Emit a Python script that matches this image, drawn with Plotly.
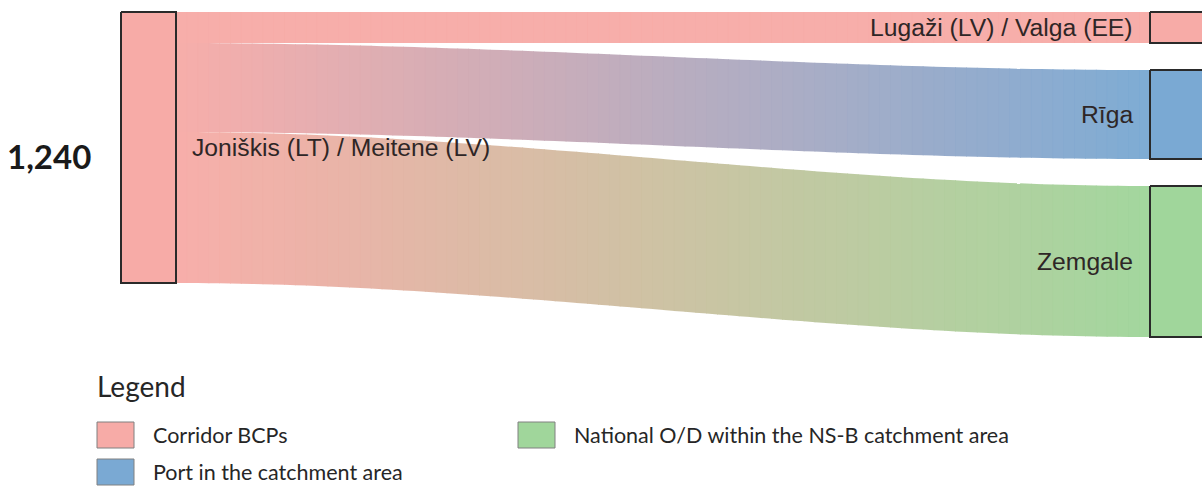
import plotly.graph_objects as go

# ---------------- data ----------------
source_label = "Joniškis (LT) / Meitene (LV)"
target_labels = ["Lugaži (LV) / Valga (EE)", "Rīga", "Zemgale"]
flow_values = [142, 407, 691]
target_groups = ["Corridor BCPs", "Port in the catchment area",
                 "National O/D within the NS-B catchment area"]
source_group = "Corridor BCPs"

legend_title = "Legend"
legend_labels = ["Corridor BCPs", "Port in the catchment area",
                 "National O/D within the NS-B catchment area"]
group_colors = {
    "Corridor BCPs": (247, 171, 167),
    "Port in the catchment area": (122, 169, 211),
    "National O/D within the NS-B catchment area": (160, 214, 155),
}

# ---------------- layout constants (pixels) ----------------
W, H = 1202, 488
SRC_X0, SRC_X1 = 121, 176
TGT_X0, TGT_X1 = 1150, 1206
TOP = 12
SRC_HEIGHT = 271
TGT_GAP = 27
N_STRIPS = 90

total = sum(flow_values)
scale = SRC_HEIGHT / total


def rgb(c, a=1.0):
    return f"rgba({c[0]},{c[1]},{c[2]},{a})"


def mix(c1, c2, t):
    return tuple(round(c1[i] + (c2[i] - c1[i]) * t) for i in range(3))


def smooth(u):
    return 3 * u * u - 2 * u * u * u


fig = go.Figure()

# node positions computed from values
src_y = []
y = TOP
for v in flow_values:
    src_y.append((y, y + v * scale))
    y += v * scale
tgt_y = []
y = TOP
for v in flow_values:
    tgt_y.append((y, y + v * scale))
    y += v * scale + TGT_GAP

# links with gradient (vertical strips)
for i, v in enumerate(flow_values):
    c0 = group_colors[source_group]
    c1 = group_colors[target_groups[i]]
    (s0, s1), (t0, t1) = src_y[i], tgt_y[i]
    span = TGT_X0 - SRC_X1
    for k in range(N_STRIPS):
        ua = k / N_STRIPS
        ub = (k + 1) / N_STRIPS
        xb = min(SRC_X1 + ub * span + 0.8, TGT_X0)
        sub = [ua + (ub - ua) * j / 4 for j in range(5)]
        xs_top = [SRC_X1 + u * span for u in sub]
        xs_top[-1] = xb
        top = [s0 + (t0 - s0) * smooth(min(u, 1)) for u in sub]
        bot = [s1 + (t1 - s1) * smooth(min(u, 1)) for u in sub]
        xs = xs_top + xs_top[::-1] + [xs_top[0]]
        ys = top + bot[::-1] + [top[0]]
        col = mix(c0, c1, (ua + ub) / 2)
        fig.add_trace(go.Scatter(
            x=xs, y=ys, mode="lines", fill="toself",
            fillcolor=rgb(col, 0.97), line=dict(width=0),
            hoverinfo="skip", showlegend=False))


def add_rect(x0, x1, y0, y1, color, lw, lc):
    fig.add_trace(go.Scatter(
        x=[x0, x1, x1, x0, x0], y=[y0, y0, y1, y1, y0],
        mode="lines", fill="toself", fillcolor=color,
        line=dict(width=lw, color=lc), hoverinfo="skip", showlegend=False))


# nodes
add_rect(SRC_X0, SRC_X1, TOP, TOP + total * scale,
         rgb(group_colors[source_group]), 2, "#2a2a2a")
for i in range(len(flow_values)):
    add_rect(TGT_X0, TGT_X1, tgt_y[i][0], tgt_y[i][1],
             rgb(group_colors[target_groups[i]]), 2, "#2a2a2a")

label_font = dict(family="Liberation Sans, Arial, sans-serif", size=24.7, color="#2e2626")
annotations = []
annotations.append(dict(x=SRC_X1 + 14, y=TOP + total * scale / 2, text=source_label,
                        xanchor="left", yanchor="middle", showarrow=False, font=label_font))
for i, lab in enumerate(target_labels):
    annotations.append(dict(x=TGT_X0 - 15, y=(tgt_y[i][0] + tgt_y[i][1]) / 2, text=lab,
                            xanchor="right", yanchor="middle", showarrow=False, font=label_font))
annotations.append(dict(x=93, y=TOP + total * scale / 2 + 8, text=f"<b>{total:,}</b>",
                        xanchor="right", yanchor="middle", showarrow=False,
                        font=dict(family="Lato, sans-serif", size=33, color="#1a1a1a")))

# custom legend
leg_font = dict(family="Lato, sans-serif", size=21.5, color="#262626")
annotations.append(dict(x=95, y=386, text=legend_title, xanchor="left", yanchor="middle",
                        showarrow=False, font=dict(family="Lato, sans-serif", size=28, color="#262626")))
legend_pos = [(97, 435), (97, 472), (518, 435)]
for lab, (lx, ly) in zip(legend_labels, legend_pos):
    add_rect(lx, lx + 37, ly - 13, ly + 13, rgb(group_colors[lab]), 1, "#808080")
    annotations.append(dict(x=lx + 54, y=ly, text=lab, xanchor="left", yanchor="middle",
                            showarrow=False, font=leg_font))

fig.update_layout(
    width=W, height=H,
    margin=dict(l=0, r=0, t=0, b=0),
    paper_bgcolor="white", plot_bgcolor="white",
    xaxis=dict(range=[0, W], visible=False, fixedrange=True),
    yaxis=dict(range=[H, 0], visible=False, fixedrange=True),
    annotations=annotations,
    showlegend=False,
)

fig.write_html("out.html", config={"displayModeBar": False},
               post_script="document.body.style.margin='0';document.body.style.overflow='hidden';")
